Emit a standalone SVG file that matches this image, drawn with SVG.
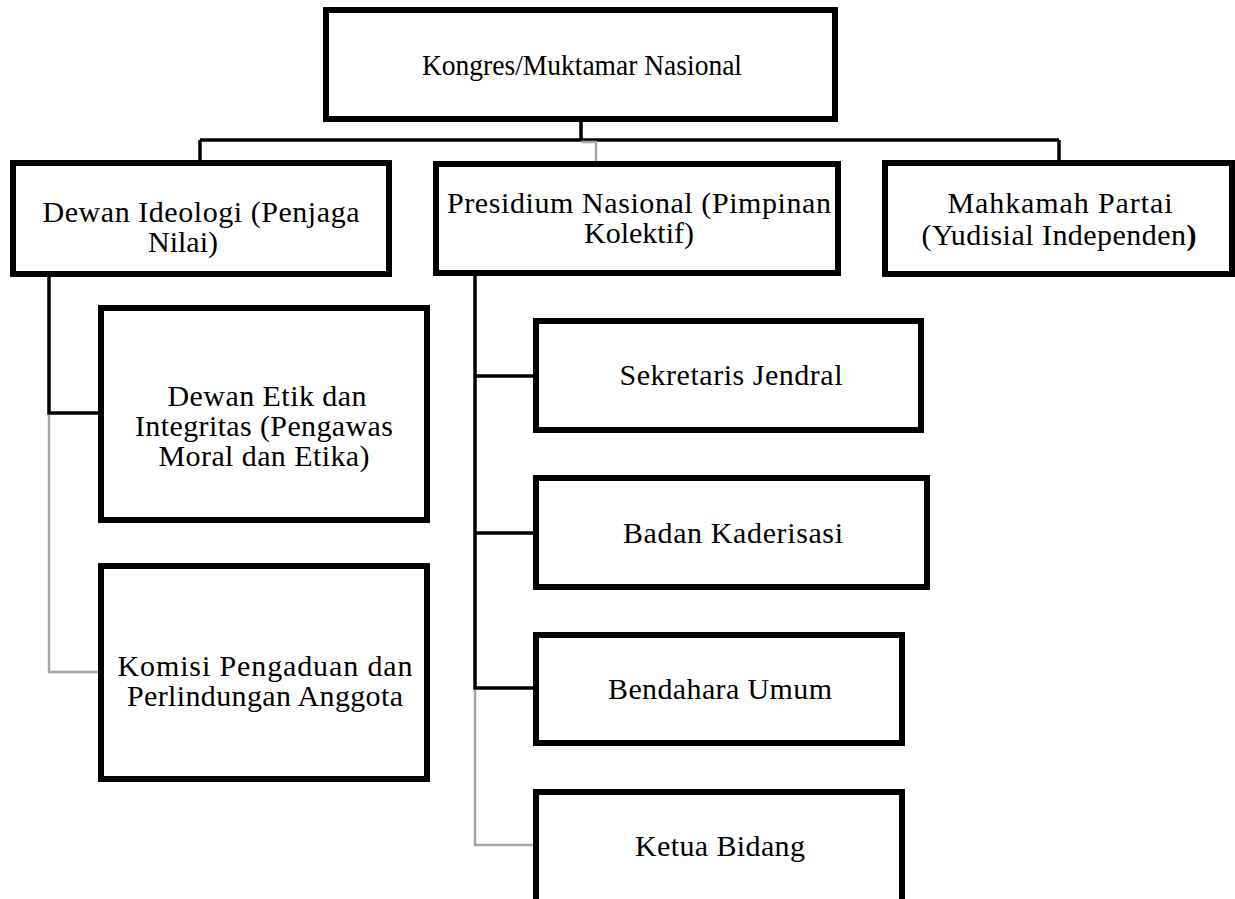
<svg xmlns="http://www.w3.org/2000/svg" width="1235" height="899" viewBox="0 0 1235 899">
  <style>
    .box { fill: #ffffff; stroke: #000000; stroke-width: 6; }
    .link { fill: none; stroke: #000000; stroke-width: 3.5; stroke-linejoin: miter; }
    .link-soft { fill: none; stroke: #a6a6a6; stroke-width: 2.5; stroke-linejoin: miter; }
  </style>
  <rect width="1235" height="899" fill="#ffffff"/>

  <!-- connectors -->
  <g id="connectors">
    <path class="link" d="M581,122 V140"/>
    <path class="link" d="M200,140 H1059"/>
    <path class="link" d="M200,140 V161"/>
    <path class="link" d="M1059,140 V161"/>
    <path class="link-soft" d="M581,142 H596 V161"/>
    <path class="link" d="M49,277 V413 H98"/>
    <path class="link-soft" d="M49,415 V672 H98"/>
    <path class="link" d="M475,276 V688 H533"/>
    <path class="link" d="M475,376 H533"/>
    <path class="link" d="M475,533 H533"/>
    <path class="link-soft" d="M475,690 V845 H533"/>
  </g>

  <g font-family="Liberation Serif, Times New Roman, serif" font-size="30" fill="#000000" text-anchor="middle">
    <!-- top level -->
    <g id="kongres">
      <rect class="box" x="326" y="10" width="509" height="109"/>
      <text x="582" y="75" textLength="320" lengthAdjust="spacingAndGlyphs">Kongres/Muktamar Nasional</text>
    </g>

    <!-- second level -->
    <g id="dewan-ideologi">
      <rect class="box" x="13" y="163" width="376" height="111"/>
      <text x="201" y="222" textLength="317" lengthAdjust="spacing">Dewan Ideologi (Penjaga</text>
      <text x="183" y="252">Nilai)</text>
    </g>

    <g id="presidium">
      <rect class="box" x="436" y="164" width="402" height="109"/>
      <text x="639" y="213" textLength="384" lengthAdjust="spacing">Presidium Nasional (Pimpinan</text>
      <text x="639" y="243">Kolektif)</text>
    </g>

    <g id="mahkamah">
      <rect class="box" x="885" y="163" width="347" height="111"/>
      <text x="1060" y="213" textLength="225" lengthAdjust="spacing">Mahkamah Partai</text>
      <text x="1059" y="245" textLength="275" lengthAdjust="spacing">(Yudisial Independen<tspan font-weight="bold">)</tspan></text>
    </g>

    <!-- under Dewan Ideologi -->
    <g id="dewan-etik">
      <rect class="box" x="101" y="308" width="326" height="212"/>
      <text x="267" y="406" textLength="199" lengthAdjust="spacing">Dewan Etik dan</text>
      <text x="264" y="436" textLength="258" lengthAdjust="spacing">Integritas (Pengawas</text>
      <text x="264" y="466" textLength="211" lengthAdjust="spacing">Moral dan Etika)</text>
    </g>

    <g id="komisi">
      <rect class="box" x="101" y="566" width="326" height="213"/>
      <text x="265" y="676" textLength="295" lengthAdjust="spacing">Komisi Pengaduan dan</text>
      <text x="265" y="706" textLength="276" lengthAdjust="spacing">Perlindungan Anggota</text>
    </g>

    <!-- under Presidium -->
    <g id="sekretaris">
      <rect class="box" x="536" y="321" width="385" height="109"/>
      <text x="731" y="385" textLength="223" lengthAdjust="spacing">Sekretaris Jendral</text>
    </g>

    <g id="kaderisasi">
      <rect class="box" x="536" y="478" width="391" height="109"/>
      <text x="733" y="543" textLength="220" lengthAdjust="spacing">Badan Kaderisasi</text>
    </g>

    <g id="bendahara">
      <rect class="box" x="536" y="635" width="366" height="108"/>
      <text x="720" y="699" textLength="224" lengthAdjust="spacing">Bendahara Umum</text>
    </g>

    <g id="ketua-bidang">
      <rect class="box" x="536" y="792" width="366" height="130"/>
      <text x="720" y="856" textLength="170" lengthAdjust="spacing">Ketua Bidang</text>
    </g>
  </g>
</svg>
